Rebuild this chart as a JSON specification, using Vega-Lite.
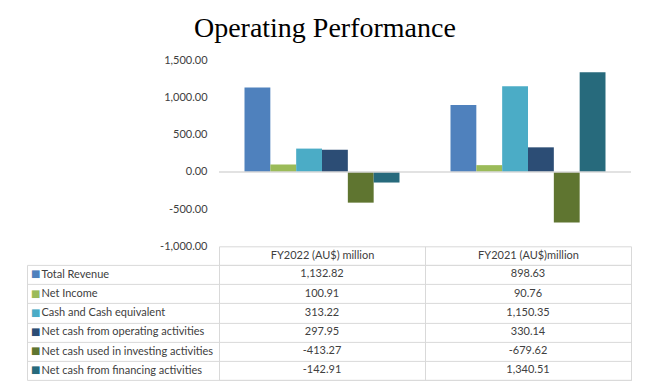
{
  "$schema": "https://vega.github.io/schema/vega-lite/v6.json",
  "padding": {"left": 26, "top": 14.3, "right": 19, "bottom": 10},
  "title": {"text": "Operating Performance", "font": "Liberation Serif", "fontSize": 28, "fontWeight": "normal", "color": "#000000", "anchor": "middle", "offset": 11.4, "dx": -4},
  "datasets": {
    "perf": [
      {"series": "Total Revenue", "period": "FY2022 (AU$) million", "value": 1132.82},
      {"series": "Net Income", "period": "FY2022 (AU$) million", "value": 100.91},
      {"series": "Cash and Cash equivalent", "period": "FY2022 (AU$) million", "value": 313.22},
      {"series": "Net cash from operating activities", "period": "FY2022 (AU$) million", "value": 297.95},
      {"series": "Net cash used in investing activities", "period": "FY2022 (AU$) million", "value": -413.27},
      {"series": "Net cash from financing activities", "period": "FY2022 (AU$) million", "value": -142.91},
      {"series": "Total Revenue", "period": "FY2021 (AU$)million", "value": 898.63},
      {"series": "Net Income", "period": "FY2021 (AU$)million", "value": 90.76},
      {"series": "Cash and Cash equivalent", "period": "FY2021 (AU$)million", "value": 1150.35},
      {"series": "Net cash from operating activities", "period": "FY2021 (AU$)million", "value": 330.14},
      {"series": "Net cash used in investing activities", "period": "FY2021 (AU$)million", "value": -679.62},
      {"series": "Net cash from financing activities", "period": "FY2021 (AU$)million", "value": 1340.51}
    ]
  },
  "data": {"name": "perf"},
  "bounds": "flush",
  "spacing": 18.6,
  "vconcat": [
    {
      "width": 412,
      "height": 186,
      "view": {"stroke": null},
      "encoding": {
        "y": {"field": "value", "type": "quantitative",
          "scale": {"domain": [-1000, 1500], "nice": false, "zero": false},
          "axis": {"values": [-1000, -500, 0, 500, 1000, 1500], "format": ",.2f", "domain": false, "ticks": false, "grid": false, "labelPadding": 12, "labelFontSize": 11, "labelColor": "#404040", "labelFlush": false, "labelOverlap": false, "labelSeparation": 0, "title": null}}
      },
      "layer": [
        {
          "mark": {"type": "bar"},
          "encoding": {
            "x": {"field": "period", "type": "nominal", "sort": ["FY2022 (AU$) million", "FY2021 (AU$)million"],
              "scale": {"paddingInner": 0, "paddingOuter": 0},
              "axis": {"orient": "bottom", "title": null, "domainColor": "#d9d9d9", "tickColor": "#d9d9d9", "tickBand": "extent", "tickSize": 18.6, "labelPadding": -9.8, "labelBaseline": "middle", "labelAngle": 0, "labelFontSize": 11, "labelColor": "#404040", "labelOverlap": false, "grid": false}},
            "xOffset": {"field": "series", "type": "nominal", "sort": ["Total Revenue", "Net Income", "Cash and Cash equivalent", "Net cash from operating activities", "Net cash used in investing activities", "Net cash from financing activities"],
              "scale": {"paddingInner": 0, "paddingOuter": 0.987}},
            "color": {"field": "series", "type": "nominal",
              "scale": {"domain": ["Total Revenue", "Net Income", "Cash and Cash equivalent", "Net cash from operating activities", "Net cash used in investing activities", "Net cash from financing activities"],
                "range": ["#4F81BD", "#9BBB59", "#4BACC6", "#2C4D75", "#5F7530", "#276A7C"]},
              "legend": null}
          }
        },
        {
          "data": {"values": [{"value": 0}]},
          "mark": {"type": "rule", "color": "#d9d9d9", "strokeWidth": 1.5},
          "encoding": {}
        }
      ]
    },
    {
      "width": 412,
      "height": 115,
      "view": {"stroke": "#d9d9d9"},
      "layer": [
        {
          "mark": {"type": "text", "fontSize": 11, "color": "#404040"},
          "encoding": {
            "x": {"field": "period", "type": "nominal", "sort": ["FY2022 (AU$) million", "FY2021 (AU$)million"],
              "scale": {"paddingInner": 0, "paddingOuter": 0},
              "axis": {"orient": "top", "title": null, "labels": false, "ticks": false, "domain": false, "grid": true, "gridColor": "#d9d9d9", "tickBand": "extent"}},
            "y": {"field": "series", "type": "nominal", "sort": ["Total Revenue", "Net Income", "Cash and Cash equivalent", "Net cash from operating activities", "Net cash used in investing activities", "Net cash from financing activities"],
              "scale": {"paddingInner": 0, "paddingOuter": 0},
              "axis": {"orient": "left", "title": null, "domain": false, "ticks": true, "tickSize": 192, "tickColor": "#d9d9d9", "tickBand": "extent", "grid": true, "gridColor": "#d9d9d9", "labelAlign": "left", "labelPadding": -14, "labelBaseline": "middle", "labelFontSize": 11, "labelColor": "#404040", "labelLimit": 0, "labelOverlap": false}},
            "text": {"field": "value", "type": "quantitative", "format": ",.2f"}
          }
        },
        {
          "mark": {"type": "text", "text": ""},
          "encoding": {
            "x": {"field": "period", "type": "nominal", "sort": ["FY2022 (AU$) million", "FY2021 (AU$)million"]},
            "y": {"field": "series", "type": "nominal", "sort": ["Total Revenue", "Net Income", "Cash and Cash equivalent", "Net cash from operating activities", "Net cash used in investing activities", "Net cash from financing activities"],
              "axis": {"orient": "left", "offset": 192, "title": null, "domain": true, "domainColor": "#d9d9d9", "ticks": false, "grid": false, "labelExpr": "'■'", "labelAlign": "left", "labelPadding": -3.5, "labelBaseline": "middle", "labelFont": "DejaVu Sans", "labelFontSize": 10, "labelOverlap": false,
                "labelColor": {"condition": [
                  {"test": "datum.value == 'Total Revenue'", "value": "#4F81BD"},
                  {"test": "datum.value == 'Net Income'", "value": "#9BBB59"},
                  {"test": "datum.value == 'Cash and Cash equivalent'", "value": "#4BACC6"},
                  {"test": "datum.value == 'Net cash from operating activities'", "value": "#2C4D75"},
                  {"test": "datum.value == 'Net cash used in investing activities'", "value": "#5F7530"}
                ], "value": "#276A7C"}}}
          }
        }
      ],
      "resolve": {"axis": {"y": "independent"}}
    }
  ],
  "config": {
    "font": "Lato",
    "axisY": {"labelOverlap": false},
    "locale": {"number": {"decimal": ".", "thousands": ",", "grouping": [3], "currency": ["$", ""], "minus": "-"}}
  }
}
